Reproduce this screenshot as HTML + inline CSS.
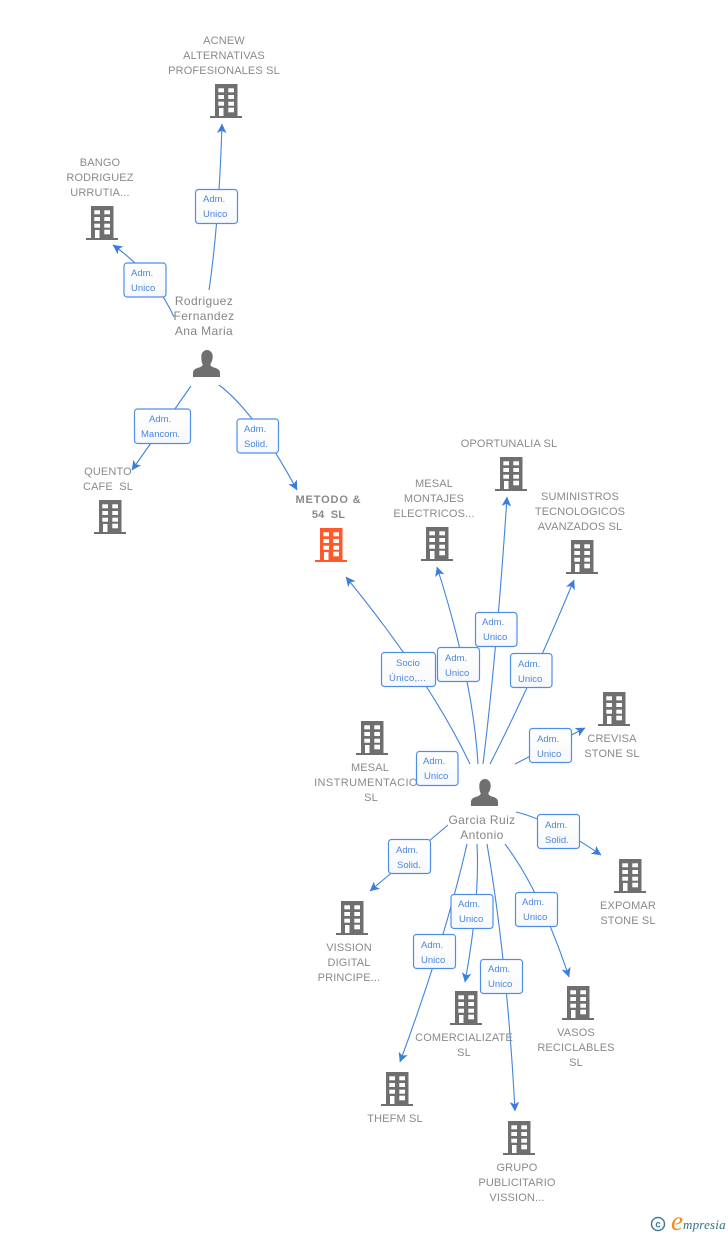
<!DOCTYPE html>
<html><head><meta charset="utf-8">
<style>
html,body{margin:0;padding:0;background:#fff;width:728px;height:1235px;overflow:hidden}
svg{display:block}
.t{font:11px "Liberation Sans",sans-serif;fill:#8a8a8a;text-anchor:middle;letter-spacing:.14px}
.p{font:12px "Liberation Sans",sans-serif;fill:#868686;text-anchor:middle;letter-spacing:.4px}
.b{font:9.5px "Liberation Sans",sans-serif;fill:#4a86e0}
.l{fill:none;stroke:#4084e0;stroke-width:1.1;marker-end:url(#a)}
.r{fill:url(#g);stroke:#4f8ee6;stroke-width:1.2}
</style></head><body>
<svg width="728" height="1235" viewBox="0 0 728 1235" xmlns="http://www.w3.org/2000/svg">
<defs>
<linearGradient id="g" x1="0" y1="0" x2="0" y2="1"><stop offset="0" stop-color="#fff"/><stop offset="1" stop-color="#f7f8fa"/></linearGradient>
<marker id="a" markerUnits="userSpaceOnUse" markerWidth="11" markerHeight="11" refX="10" refY="6" orient="auto" viewBox="0 0 12 12">
<path d="M10.5,6 L0,0.8 L2.6,6 L0,11.2 Z" fill="#3a7de0"/>
</marker>
<symbol id="h" width="32" height="34" viewBox="0 0 32 34" overflow="visible">
<path fill="currentColor" d="M5,0H27.5V32H32V34H0V32H5Z"/>
<g fill="#fff">
<rect x="8.300" y="4.300" width="5.700" height="4"/><rect x="18.300" y="4.300" width="5.700" height="4"/>
<rect x="8.300" y="11" width="5.700" height="4"/><rect x="18.300" y="11" width="5.700" height="4"/>
<rect x="8.300" y="17.700" width="5.700" height="4"/><rect x="18.300" y="17.700" width="5.700" height="4"/>
<rect x="9" y="24" width="4.500" height="8"/><rect x="18.300" y="23.700" width="5.700" height="4.600"/>
</g>
</symbol>
<symbol id="u" width="28" height="28" viewBox="0 0 28 28" overflow="visible">
<path fill="#6f6f6f" d="M14,0C17.300,0 19.700,2.800 19.700,6.500C19.700,10 18.400,12.600 17.300,14.200C17.300,16 19,16.800 22,17.800C25.500,19 27,20.500 27,23V27H0V23C0,20.500 1.500,19 5,17.800C8,16.800 9.700,16 9.700,14.200C8.600,12.600 8.300,10 8.300,6.500C8.300,2.800 10.700,0 14,0Z"/>
</symbol>
</defs>

<!-- connectors -->
<path class="l" d="M209,290 Q219,222 222,124"/>
<path class="l" d="M174,317 Q155,275 113,245"/>
<path class="l" d="M191,386 L132,470"/>
<path class="l" d="M219,385 Q255,412 297,490"/>
<path class="l" d="M470,764 Q430,680 346,577"/>
<path class="l" d="M478,764 Q473,680 437,567"/>
<path class="l" d="M483,764 Q497,650 507,497"/>
<path class="l" d="M490,764 Q528,690 574,580"/>
<path class="l" d="M515,764 L585,728"/>
<path class="l" d="M516,812 Q550,820 601,855"/>
<path class="l" d="M448,825 L370,891"/>
<path class="l" d="M477,844 Q480,900 465,982"/>
<path class="l" d="M467,844 Q445,940 400,1062"/>
<path class="l" d="M487,844 Q507,960 515,1111"/>
<path class="l" d="M505,844 Q540,890 569,977"/>

<!-- icons -->
<g color="#6f6f6f">
<use href="#h" x="210" y="84"/>
<use href="#h" x="86" y="206"/>
<use href="#h" x="94" y="500"/>
<use href="#h" x="421" y="527"/>
<use href="#h" x="495" y="457"/>
<use href="#h" x="566" y="540"/>
<use href="#h" x="598" y="692"/>
<use href="#h" x="356" y="721"/>
<use href="#h" x="614" y="859"/>
<use href="#h" x="336" y="901"/>
<use href="#h" x="450" y="991"/>
<use href="#h" x="562" y="986"/>
<use href="#h" x="381" y="1072"/>
<use href="#h" x="503" y="1121"/>
</g>
<g color="#ff5a2b"><use href="#h" x="315" y="528"/></g>
<use href="#u" x="193" y="350"/>
<use href="#u" x="471" y="779"/>

<!-- node labels -->
<g class="t">
<text x="224" y="44">ACNEW</text><text x="224" y="59">ALTERNATIVAS</text><text x="224" y="74">PROFESIONALES SL</text>
<text x="100" y="166">BANGO</text><text x="100" y="181">RODRIGUEZ</text><text x="100" y="196">URRUTIA...</text>
<text x="108" y="475">QUENTO</text><text x="108" y="490" xml:space="preserve">CAFE  SL</text>
<text x="328.500" y="503" style="font-weight:bold;letter-spacing:.85px">METODO &amp;</text><text x="328.500" y="518" style="font-weight:bold" xml:space="preserve">54  SL</text>
<text x="434" y="487">MESAL</text><text x="434" y="502">MONTAJES</text><text x="434" y="517">ELECTRICOS...</text>
<text x="509" y="447">OPORTUNALIA SL</text>
<text x="580" y="500">SUMINISTROS</text><text x="580" y="515">TECNOLOGICOS</text><text x="580" y="530">AVANZADOS SL</text>
<text x="612" y="742">CREVISA</text><text x="612" y="757">STONE SL</text>
<text x="370" y="771">MESAL</text><text x="366" y="786" style="letter-spacing:.4px">INSTRUMENTACIO</text><text x="371" y="801">SL</text>
<text x="628" y="909">EXPOMAR</text><text x="628" y="924">STONE SL</text>
<text x="349" y="951">VISSION</text><text x="349" y="966">DIGITAL</text><text x="349" y="981">PRINCIPE...</text>
<text x="464" y="1041">COMERCIALIZATE</text><text x="464" y="1056">SL</text>
<text x="576" y="1036">VASOS</text><text x="576" y="1051">RECICLABLES</text><text x="576" y="1066">SL</text>
<text x="395" y="1122">THEFM SL</text>
<text x="517" y="1171">GRUPO</text><text x="517" y="1186">PUBLICITARIO</text><text x="517" y="1201">VISSION...</text>
</g>
<g class="p">
<text x="204" y="305">Rodriguez</text><text x="204" y="320">Fernandez</text><text x="204" y="335">Ana Maria</text>
<text x="482" y="824">Garcia Ruiz</text><text x="482" y="839">Antonio</text>
</g>

<!-- connector labels -->
<rect class="r" x="195.500" y="189.500" width="42" height="34" rx="3"/>
<rect class="r" x="124" y="263" width="42" height="34" rx="3"/>
<rect class="r" x="134.500" y="409" width="56" height="34.500" rx="3"/>
<rect class="r" x="237" y="419" width="41.500" height="34" rx="3"/>
<rect class="r" x="381.500" y="652.500" width="54" height="34" rx="3"/>
<rect class="r" x="437.500" y="647.500" width="42" height="34" rx="3"/>
<rect class="r" x="475.500" y="612.500" width="41.500" height="34" rx="3"/>
<rect class="r" x="510.500" y="653.500" width="41.500" height="34" rx="3"/>
<rect class="r" x="529.500" y="728.500" width="42" height="34" rx="3"/>
<rect class="r" x="416.500" y="751.500" width="41.500" height="34" rx="3"/>
<rect class="r" x="537.500" y="814.500" width="42" height="34" rx="3"/>
<rect class="r" x="388.500" y="839.500" width="42" height="34" rx="3"/>
<rect class="r" x="451" y="894.500" width="42" height="34" rx="3"/>
<rect class="r" x="413.500" y="934.500" width="42" height="34" rx="3"/>
<rect class="r" x="480.500" y="959.500" width="42" height="34" rx="3"/>
<rect class="r" x="515.500" y="892.500" width="42" height="34" rx="3"/>
<g class="b">
<text x="203" y="202">Adm.</text><text x="203" y="217">Unico</text>
<text x="131" y="276">Adm.</text><text x="131" y="291">Unico</text>
<text x="149" y="422">Adm.</text><text x="141" y="437">Mancom.</text>
<text x="244" y="432">Adm.</text><text x="244" y="447">Solid.</text>
<text x="396" y="666">Socio</text><text x="389" y="681" style="letter-spacing:.25px">Único,...</text>
<text x="445" y="661">Adm.</text><text x="445" y="676">Unico</text>
<text x="482" y="625">Adm.</text><text x="483" y="640">Unico</text>
<text x="518" y="667">Adm.</text><text x="518" y="682">Unico</text>
<text x="537" y="742">Adm.</text><text x="537" y="757">Unico</text>
<text x="423" y="764">Adm.</text><text x="424" y="779">Unico</text>
<text x="545" y="828">Adm.</text><text x="545" y="843">Solid.</text>
<text x="396" y="853">Adm.</text><text x="397" y="868">Solid.</text>
<text x="458" y="907">Adm.</text><text x="459" y="922">Unico</text>
<text x="421" y="948">Adm.</text><text x="421" y="963">Unico</text>
<text x="488" y="972">Adm.</text><text x="488" y="987">Unico</text>
<text x="522" y="905">Adm.</text><text x="523" y="920">Unico</text>
</g>

<!-- logo -->
<circle cx="658" cy="1224" r="6.500" fill="none" stroke="#3f7f96" stroke-width="1.500"/>
<text x="658" y="1227.500" style="font:bold 10px 'Liberation Sans',sans-serif;fill:#3f7f96;text-anchor:middle">c</text>
<text x="671" y="1230" style="font:italic 27px 'Liberation Serif',serif;fill:#f08a24">e</text>
<text x="683" y="1229" style="font:italic 13px 'Liberation Serif',serif;fill:#2f7188;letter-spacing:.2px">mpresia</text>
</svg>
</body></html>
